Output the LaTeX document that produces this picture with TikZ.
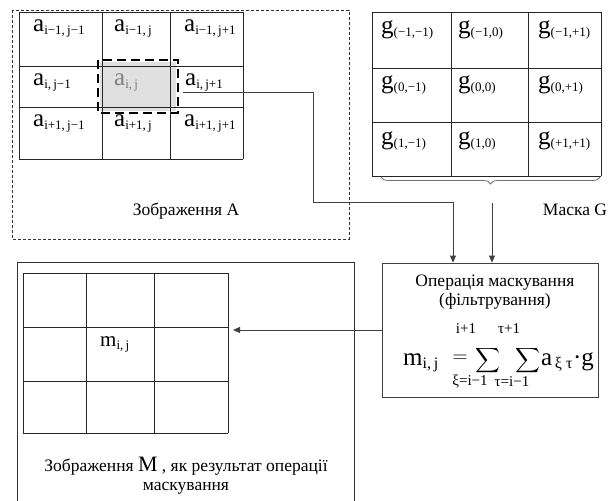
\documentclass[tikz,border=0pt]{standalone}
\usepackage{amsmath}
\usepackage{fontspec}
\setmainfont{Liberation Serif}
\usepackage{tikz}
\usetikzlibrary{positioning,arrows.meta,decorations.pathreplacing}

\newcommand{\ix}[2]{#1\textsubscript{\fontsize{13}{13}\selectfont #2}}
\newcommand{\fx}[2]{#1\textsubscript{\fontsize{16}{16}\selectfont #2}}

\begin{document}
\begin{tikzpicture}[x=1pt, y=-1pt, font=\fontsize{17.5}{19}\selectfont,
  gridline/.style={black!85, line width=0.8pt},
  conn/.style={black!75, line width=0.8pt},
  arr/.style={conn, -{Triangle[length=7pt,width=6pt]}},
  lbl/.style={inner sep=0pt, anchor=base west, font=\fontsize{25}{25}\selectfont},
  limit/.style={inner sep=0pt, font=\fontsize{15}{15}\selectfont},
  bigsum/.style={inner sep=0pt, font=\fontsize{18}{18}\selectfont}]
  \useasboundingbox (0,0) rectangle (611,501);

  % image A
  \draw[black!80, line width=0.8pt, dash pattern=on 3pt off 2pt] (12,10) rectangle (349,239);
  \fill[black!12] (100,62) rectangle (176,111);
  \foreach \x in {19,102,170,243}
    \draw[gridline] (\x,12) -- (\x,159);
  \foreach \y in {12,66,107,159}
    \draw[gridline] (19,\y) -- (243,\y);
  \draw[black, line width=2.6pt, dash pattern=on 9pt off 5pt] (98,60) rectangle (178,113);
  \foreach \px/\py/\t [count=\k] in {
      33/31/{\ix{a}{i−1,\,j−1}},
      114/31/{\ix{a}{i−1,\,j}},
      184/31/{\ix{a}{i−1,\,j+1}},
      33/85/{\ix{a}{i,\,j−1}},
      185/85/{\ix{a}{i,\,j+1}},
      33/126/{\ix{a}{i+1,\,j−1}},
      114/126/{\ix{a}{i+1,\,j}},
      184/126/{\ix{a}{i+1,\,j+1}}}
    \node[lbl] (a\k) at (\px,\py) {\t};
  \node[lbl, text=black!50] (aij) at (114,85) {\ix{a}{i,\,j}};
  \node (capA) at (186,211) {Зображення А};

  % mask G
  \foreach \x in {372,451,528,601}
    \draw[gridline] (\x,12) -- (\x,176);
  \foreach \y in {12,68,122,176}
    \draw[gridline] (372,\y) -- (601,\y);
  \foreach \px/\py/\t [count=\k] in {
      381/33/{\ix{g}{(−1,−1)}},
      458/33/{\ix{g}{(−1,0)}},
      538/33/{\ix{g}{(−1,+1)}},
      381/88/{\ix{g}{(0,−1)}},
      458/88/{\ix{g}{(0,0)}},
      538/88/{\ix{g}{(0,+1)}},
      381/144/{\ix{g}{(1,−1)}},
      458/144/{\ix{g}{(1,0)}},
      538/144/{\ix{g}{(+1,+1)}}}
    \node[lbl] (g\k) at (\px,\py) {\t};
  \draw[black!55, line width=0.8pt, decorate, decoration={brace, mirror, amplitude=7pt}]
    (381,177) -- (600,177);
  \node (capG) at (575,210) {Маска G};

  % masking operation
  \node[draw=black!75, line width=0.8pt, minimum width=216pt, minimum height=134pt] (op) at (490,330) {};
  \node[align=center, inner sep=0pt] (optitle) at (495,292) {Операція маскування\\(фільтрування)};
  \node[lbl] (fm) at (403,365) {\fx{m}{i,\,j}};
  \node[inner sep=0pt, font=\fontsize{22}{22}\selectfont] (feq) at (460,359) {$=$};
  \node[bigsum] (sum1) at (488,361) {$\displaystyle\sum$};
  \node[limit] (up1) at (466,329) {i+1};
  \node[limit] (lo1) at (470,382) {ξ=i−1};
  \node[bigsum] (sum2) at (528,361) {$\displaystyle\sum$};
  \node[limit] (up2) at (509,329) {τ+1};
  \node[limit] (lo2) at (512,382) {τ=i−1};
  \node[lbl] (fa) at (541,365) {\fx{a}{\,ξ τ}·g};

  % image M
  \draw[black!80, line width=0.8pt] (17,510) |- (354,262) -- (354,510);
  \foreach \x in {23,86,154,228}
    \draw[gridline] (\x,273) -- (\x,433);
  \foreach \y in {273,327,381,433}
    \draw[gridline] (23,\y) -- (228,\y);
  \node[lbl, font=\fontsize{21}{21}\selectfont] (mij) at (100,346) {\ix{m}{i,\,j}};
  \node[align=center, inner sep=0pt] (capM) at (186,476)
    {Зображення {\fontsize{22}{22}\selectfont M} , як результат операції\\маскування};

  % connectors
  \coordinate (src) at (183,92);
  \coordinate (bend) at (313,202);
  \coordinate (drop) at (453,202);
  \coordinate (gtip) at (492,203);
  \coordinate (mtip) at (233,330);
  \draw[arr] (src) -| (bend) -- (drop) -- (drop |- op.north);
  \draw[arr] (gtip) -- (gtip |- op.north);
  \draw[arr] (op.west) -- (mtip);
\end{tikzpicture}
\end{document}
